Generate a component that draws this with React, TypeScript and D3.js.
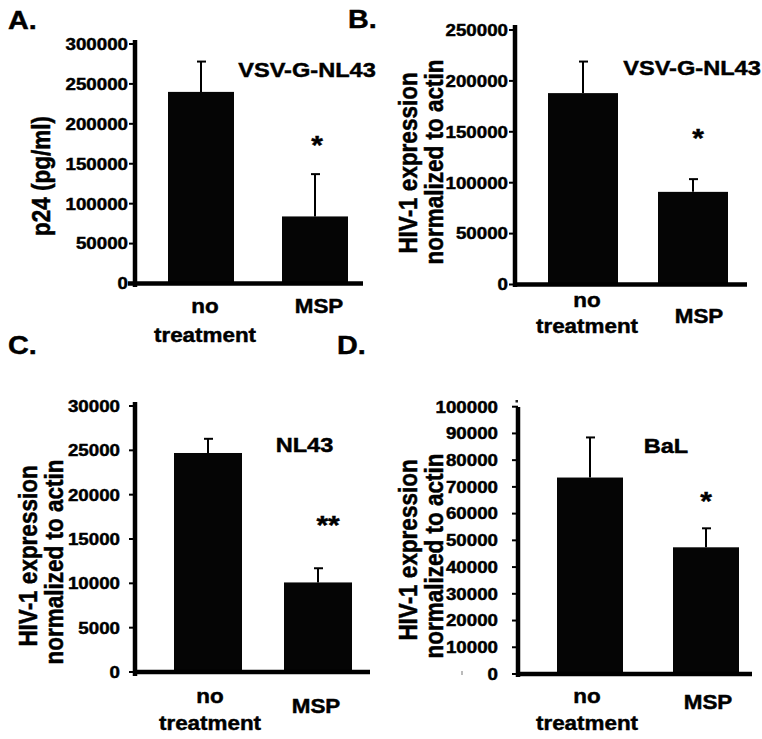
import React from "react";
import * as d3 from "d3";

// ---------- data ----------
const CATEGORIES = ["no treatment", "MSP"];

const A_VALUES = [240000, 84000];
const A_ERRORS = [38000, 53000];
const A_TICKS = [0, 50000, 100000, 150000, 200000, 250000, 300000];

const B_VALUES = [188000, 91000];
const B_ERRORS = [31000, 12500];
const B_TICKS = [0, 50000, 100000, 150000, 200000, 250000];

const C_VALUES = [24700, 10100];
const C_ERRORS = [1600, 1600];
const C_TICKS = [0, 5000, 10000, 15000, 20000, 25000, 30000];

const D_VALUES = [73500, 47400];
const D_ERRORS = [15000, 7100];
const D_TICKS = [0, 10000, 20000, 30000, 40000, 50000, 60000, 70000, 80000, 90000, 100000];

const PANEL_LETTERS = ["A.", "B.", "C.", "D."];
const PANEL_TITLES = ["VSV-G-NL43", "VSV-G-NL43", "NL43", "BaL"];
const SIGNIF = ["*", "*", "**", "*"];
const Y_LABELS_A = ["p24 (pg/ml)"];
const Y_LABELS_HIV = ["HIV-1 expression", "normalized to actin"];

// ---------- layout ----------
const FONT = "'Liberation Sans', Arial, Helvetica, sans-serif";
const SX = 1.15;

type Layout = {
  values: number[];
  errors: number[];
  ticks: number[];
  letter: string;
  letterX: number;
  letterY: number;
  title: string;
  titleX: number;
  titleY: number;
  star: string;
  starX: number;
  starY: number;
  yLabels: string[];
  yLabelX: number[];
  yLabelY: number[];
  axisX: number;
  axisTop: number;
  axisBottom: number;
  baseY: number;
  topY: number;
  xAxisFrom: number;
  xAxisTo: number;
  centers: [number, number];
  barW: number;
  tickLabelRight: number;
  catX: number[];
  noY: number;
  treatY: number;
  mspY: number;
  extra?: (s: (v: number) => number) => React.ReactNode;
};

const PANELS: Layout[] = [
  {
    values: A_VALUES, errors: A_ERRORS, ticks: A_TICKS,
    letter: PANEL_LETTERS[0], letterX: 8, letterY: 29,
    title: PANEL_TITLES[0], titleX: 307, titleY: 77,
    star: SIGNIF[0], starX: 317, starY: 154,
    yLabels: Y_LABELS_A, yLabelX: [50], yLabelY: [176],
    axisX: 135, axisTop: 40, axisBottom: 287, baseY: 283.5, topY: 44,
    xAxisFrom: 128, xAxisTo: 363, centers: [201, 315], barW: 66,
    tickLabelRight: 128, catX: [205, 319], noY: 313, treatY: 341.5, mspY: 313,
  },
  {
    values: B_VALUES, errors: B_ERRORS, ticks: B_TICKS,
    letter: PANEL_LETTERS[1], letterX: 348, letterY: 28,
    title: PANEL_TITLES[1], titleX: 692, titleY: 75,
    star: SIGNIF[1], starX: 698, starY: 147,
    yLabels: Y_LABELS_HIV, yLabelX: [416.5, 443], yLabelY: [163, 162],
    axisX: 515, axisTop: 25, axisBottom: 287, baseY: 284.5, topY: 30,
    xAxisFrom: 513, xAxisTo: 747, centers: [583, 693], barW: 70,
    tickLabelRight: 508, catX: [587, 699], noY: 307, treatY: 333, mspY: 323,
  },
  {
    values: C_VALUES, errors: C_ERRORS, ticks: C_TICKS,
    letter: PANEL_LETTERS[2], letterX: 8, letterY: 354,
    title: PANEL_TITLES[2], titleX: 304.5, titleY: 451.5,
    star: SIGNIF[2], starX: 328, starY: 534,
    yLabels: Y_LABELS_HIV, yLabelX: [36.5, 63], yLabelY: [556, 562],
    axisX: 135, axisTop: 402, axisBottom: 676, baseY: 672, topY: 406,
    xAxisFrom: 133, xAxisTo: 370, centers: [208, 318], barW: 68,
    tickLabelRight: 120, catX: [210, 316], noY: 703, treatY: 730, mspY: 713,
  },
  {
    values: D_VALUES, errors: D_ERRORS, ticks: D_TICKS,
    letter: PANEL_LETTERS[3], letterX: 337, letterY: 354,
    title: PANEL_TITLES[3], titleX: 666, titleY: 453,
    star: SIGNIF[3], starX: 706, starY: 510,
    yLabels: Y_LABELS_HIV, yLabelX: [416.5, 443], yLabelY: [550, 556],
    axisX: 518, axisTop: 407, axisBottom: 677, baseY: 674, topY: 406.7,
    xAxisFrom: 517, xAxisTo: 752, centers: [590, 706], barW: 66,
    tickLabelRight: 498, catX: [587, 708], noY: 703, treatY: 730, mspY: 709,
    extra: () => (
      <g>
        <rect x={515.5} y={400} width={2.5} height={2.5} fill="#222" />
        <rect x={461} y={671} width={2} height={4} fill="#bbb" />
      </g>
    ),
  },
];

function T(props: {
  x: number; y: number; size: number; anchor?: string; rotate?: boolean;
  children: React.ReactNode; dy?: string;
}) {
  const { x, y, size, anchor = "start", rotate = false, children, dy } = props;
  return (
    <text
      transform={`translate(${x},${y}) scale(${SX},1)${rotate ? " rotate(-90)" : ""}`}
      fontFamily={FONT}
      fontWeight="bold"
      fontSize={size}
      textAnchor={anchor}
      dy={dy}
      fill="#000"
      stroke="#000"
      strokeWidth={0.45}
    >
      {children}
    </text>
  );
}

function Panel({ p }: { p: Layout }) {
  const maxTick = p.ticks[p.ticks.length - 1];
  const y = d3.scaleLinear().domain([0, maxTick]).range([p.baseY, p.topY]);
  const x = d3.scalePoint<string>().domain(CATEGORIES).range(p.centers);
  const [noLine, treatLine] = CATEGORIES[0].split(" ");

  return (
    <g>
      <T x={p.letterX} y={p.letterY} size={25}>{p.letter}</T>

      {/* bars */}
      {CATEGORIES.map((c, i) => {
        const cx = x(c) as number;
        return (
          <rect
            key={c}
            x={cx - p.barW / 2}
            y={y(p.values[i])}
            width={p.barW}
            height={p.baseY - y(p.values[i])}
            fill="#050505"
          />
        );
      })}

      {/* error bars */}
      {CATEGORIES.map((c, i) => {
        const cx = x(c) as number;
        const top = y(p.values[i] + p.errors[i]);
        return (
          <g key={"e" + c} stroke="#000" strokeWidth={2}>
            <line x1={cx} x2={cx} y1={y(p.values[i])} y2={top} />
            <line x1={cx - 4} x2={cx + 5} y1={top} y2={top} />
          </g>
        );
      })}

      {/* y axis */}
      <line x1={p.axisX} x2={p.axisX} y1={p.axisTop} y2={p.axisBottom} stroke="#000" strokeWidth={4.5} />
      {p.ticks.map((t) => (
        <g key={t}>
          <line x1={p.axisX - 6} x2={p.axisX} y1={y(t)} y2={y(t)} stroke="#000" strokeWidth={2} />
          <T x={p.tickLabelRight} y={y(t)} size={16.3} anchor="end" dy="0.36em">{String(t)}</T>
        </g>
      ))}

      {/* x axis */}
      <line x1={p.xAxisFrom} x2={p.xAxisTo} y1={p.baseY} y2={p.baseY} stroke="#000" strokeWidth={4.5} />

      {/* category labels */}
      <T x={p.catX[0]} y={p.noY} size={19.5} anchor="middle">{noLine}</T>
      <T x={p.catX[0]} y={p.treatY} size={19.5} anchor="middle">{treatLine}</T>
      <T x={p.catX[1]} y={p.mspY} size={19.5} anchor="middle">{CATEGORIES[1]}</T>

      {/* title and significance */}
      <T x={p.titleX} y={p.titleY} size={20.5} anchor="middle">{p.title}</T>
      <T x={p.starX} y={p.starY} size={26} anchor="middle">{p.star}</T>

      {/* y labels */}
      {p.yLabels.map((l, i) => (
        <T key={l} x={p.yLabelX[i]} y={p.yLabelY[i]} size={22.5} anchor="middle" rotate>{l}</T>
      ))}

      {p.extra ? p.extra(y) : null}
    </g>
  );
}

export default function App() {
  return (
    <svg
      width={762}
      height={739}
      viewBox="0 0 762 739"
      style={{ position: "absolute", left: 0, top: 0, background: "#fff" }}
    >
      <rect x={0} y={0} width={762} height={739} fill="#fff" />
      {PANELS.map((p, i) => (
        <Panel key={i} p={p} />
      ))}
    </svg>
  );
}
